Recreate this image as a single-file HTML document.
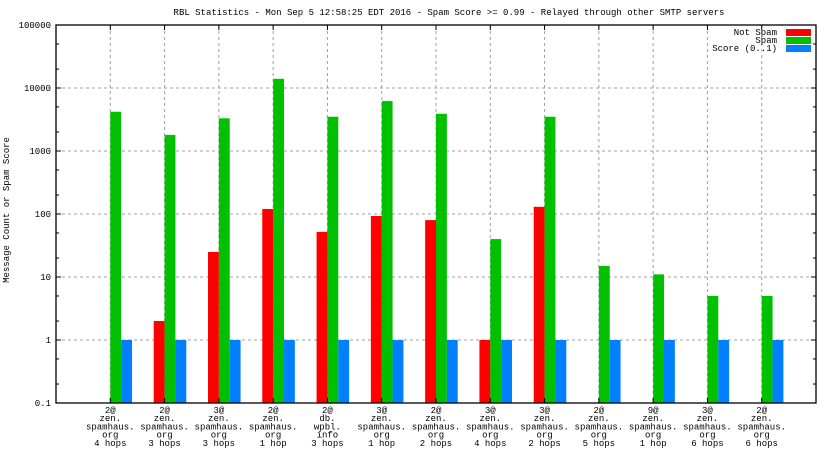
<!DOCTYPE html>
<html><head><meta charset="utf-8"><style>
html,body{margin:0;padding:0;background:#fff}
svg text{font-family:"Liberation Mono","DejaVu Sans Mono",monospace;font-size:9px;fill:#000}
</style></head><body>
<svg id="chart" width="832" height="468" viewBox="0 0 832 468" xmlns="http://www.w3.org/2000/svg">
<text x="449" y="15" text-anchor="middle">RBL Statistics - Mon Sep  5 12:58:25 EDT 2016 - Spam Score &gt;= 0.99 - Relayed through other SMTP servers</text>
<text transform="translate(9,210) rotate(-90)" text-anchor="middle">Message Count or Spam Score</text>
<g id="grid"></g><g id="bars"></g><g id="axes"></g><g id="labels"></g>
<g>
<text x="777" y="35" text-anchor="end">Not Spam</text><rect x="786" y="29" width="25" height="7" fill="#ff0000"/>
<text x="777" y="43" text-anchor="end">Spam</text><rect x="786" y="37" width="25" height="7" fill="#00c000"/>
<text x="777" y="51" text-anchor="end">Score (0..1)</text><rect x="786" y="45" width="25" height="7" fill="#0080ff"/>
</g>
</svg>
<script>
const categories=[["2@","zen.","spamhaus.","org","4 hops"],["2@","zen.","spamhaus.","org","3 hops"],["3@","zen.","spamhaus.","org","3 hops"],["2@","zen.","spamhaus.","org","1 hop"],["2@","db.","wpbl.","info","3 hops"],["3@","zen.","spamhaus.","org","1 hop"],["2@","zen.","spamhaus.","org","2 hops"],["3@","zen.","spamhaus.","org","4 hops"],["3@","zen.","spamhaus.","org","2 hops"],["2@","zen.","spamhaus.","org","5 hops"],["9@","zen.","spamhaus.","org","1 hop"],["3@","zen.","spamhaus.","org","6 hops"],["2@","zen.","spamhaus.","org","6 hops"]];
const notSpam=[0,2,25,120,52,93,80,1,130,0,0,0,0];
const spam=[4200,1800,3300,14000,3500,6200,3900,40,3500,15,11,5,5];
const score=[1,1,1,1,1,1,1,1,1,1,1,1,1];
const yTicks=[0.1,1,10,100,1000,10000,100000];
const yTickLabels=["0.1","1","10","100","1000","10000","100000"];
const L=56,R=816,T=25,B=403;
const x=i=>L+(i+1)*(R-L)/14;
const y=v=>B-(Math.log10(v)+1)*(B-T)/6;
const NS="http://www.w3.org/2000/svg";
function mk(tag,attrs,parent){const e=document.createElementNS(NS,tag);for(const k in attrs)e.setAttribute(k,attrs[k]);document.getElementById(parent).appendChild(e);return e;}
const bw=(R-L)/14*0.2;
yTicks.forEach((t,i)=>{
  const yy=y(t);
  if(i>0&&i<yTicks.length-1){const g=mk('line',{x1:L,x2:R,y1:yy,y2:yy,stroke:'#a0a0a0','stroke-dasharray':'3,3'},'grid');
  
  }
  mk('line',{x1:L,x2:L+5,y1:yy,y2:yy,stroke:'#000'},'axes');
  mk('line',{x1:R,x2:R-5,y1:yy,y2:yy,stroke:'#000'},'axes');
  const tl=mk('text',{x:L-5,y:yy+3,'text-anchor':'end'},'labels');tl.textContent=yTickLabels[i];
  
  
  if(i<yTicks.length-1){[2,5].forEach(m=>{const my=y(t*m);
    mk('line',{x1:L,x2:L+3,y1:my,y2:my,stroke:'#000'},'axes');
    mk('line',{x1:R,x2:R-3,y1:my,y2:my,stroke:'#000'},'axes');});}
});
categories.forEach((c,i)=>{
  const cx=x(i);
  const g=mk('line',{x1:cx,x2:cx,y1:T,y2:B,stroke:'#a0a0a0','stroke-dasharray':'3,3'},'grid');
  
  
  mk('line',{x1:cx,x2:cx,y1:B,y2:B-5,stroke:'#000'},'axes');
  mk('line',{x1:cx,x2:cx,y1:T,y2:T+5,stroke:'#000'},'axes');
  [[notSpam[i],cx-bw,'#ff0000','bar-not-spam'],[spam[i],cx,'#00c000','bar-spam'],[score[i],cx+bw,'#0080ff','bar-score']].forEach(([v,bx,col,nm])=>{
    if(v>0.1){const r=mk('rect',{x:bx,y:y(v),width:bw,height:B-y(v),fill:col},'bars');
    
    }
  });
  const t=mk('text',{x:cx,y:413,'text-anchor':'middle'},'labels');
  
  
  c.forEach((line,j)=>{const s=document.createElementNS(NS,'tspan');s.setAttribute('x',cx);s.setAttribute('y',413+j*8.2);s.textContent=line;t.appendChild(s);});
});
const fr=mk('rect',{x:L,y:T,width:R-L,height:B-T,fill:'none',stroke:'#000','stroke-width':1.3},'axes');


</script>
</body></html>
